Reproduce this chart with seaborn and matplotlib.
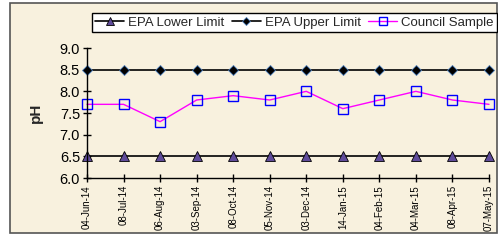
import numpy as np
import pandas as pd
import seaborn as sns
import matplotlib.pyplot as plt
from matplotlib.patches import Rectangle

dates = ["04-Jun-14", "08-Jul-14", "06-Aug-14", "03-Sep-14", "08-Oct-14", "05-Nov-14",
         "03-Dec-14", "14-Jan-15", "04-Feb-15", "04-Mar-15", "08-Apr-15", "07-May-15"]
epa_lower = [6.5] * 12
epa_upper = [8.5] * 12
council = [7.7, 7.7, 7.3, 7.8, 7.9, 7.8, 8.0, 7.6, 7.8, 8.0, 7.8, 7.7]

sns.set_style("ticks")
plt.rcParams['font.family'] = ['Liberation Sans', 'DejaVu Sans']

df = pd.DataFrame({"date": dates, "idx": np.arange(len(dates)),
                   "EPA Lower Limit": epa_lower, "EPA Upper Limit": epa_upper,
                   "Council Sample": council})

fig = plt.figure(figsize=(4.98, 2.41), dpi=100)
fig.patch.set_facecolor("white")
# chart area frame, behind the axes
fig.patches.append(Rectangle((10 / 498, 1 - 233 / 241), 487 / 498, 230 / 241,
                             transform=fig.transFigure, facecolor="#F8F1DE",
                             edgecolor="#555555", linewidth=1.2, zorder=-5))

ax = fig.add_axes([87 / 498, 1 - 178 / 241, 402 / 498, 130 / 241])
ax.set_facecolor("none")

sns.lineplot(data=df, x="idx", y="EPA Lower Limit", ax=ax, color="black", lw=1.2,
             marker="^", markersize=6.5, markerfacecolor="#5F4B9A", markeredgecolor="black",
             markeredgewidth=0.6, label="EPA Lower Limit", clip_on=False)
sns.lineplot(data=df, x="idx", y="EPA Upper Limit", ax=ax, color="black", lw=1.2,
             marker="D", markersize=5.5, markerfacecolor="black", markeredgecolor="#4F81BD",
             markeredgewidth=0.6, label="EPA Upper Limit", clip_on=False)
sns.lineplot(data=df, x="idx", y="Council Sample", ax=ax, color="#FF00FF", lw=1.0,
             marker="s", markersize=6.5, markerfacecolor="none", markeredgecolor="#0000FF",
             markeredgewidth=1.0, label="Council Sample", clip_on=False)

ax.set_xlim(0, len(dates) - 1)
ax.set_ylim(6.0, 9.0)
ax.set_yticks(np.arange(6.0, 9.01, 0.5))
ax.set_yticklabels([f"{v:.1f}" for v in np.arange(6.0, 9.01, 0.5)], fontsize=10.5)
ax.set_xticks(df["idx"])
ax.set_xticklabels(dates, rotation=90, fontsize=7)
ax.set_xlabel("")
ax.set_ylabel("pH", fontsize=11, fontweight="bold", labelpad=12)
sns.despine(ax=ax)
for s in ["left", "bottom"]:
    ax.spines[s].set_color("black")
    ax.spines[s].set_linewidth(1.0)
ax.tick_params(direction="inout", length=6, width=1, colors="black", pad=2)

leg = ax.legend(loc="upper left", bbox_to_anchor=(92 / 498, 1 - 33 / 241, 405 / 498, 20 / 241),
                bbox_transform=fig.transFigure, ncol=3, mode="expand", fontsize=9.5,
                frameon=True, fancybox=False, edgecolor="black", framealpha=1,
                handlelength=2.2, handletextpad=0.3, borderpad=0.25, columnspacing=1.2,
                borderaxespad=0, markerscale=0.8)

fig.savefig("out.png", dpi=100)
